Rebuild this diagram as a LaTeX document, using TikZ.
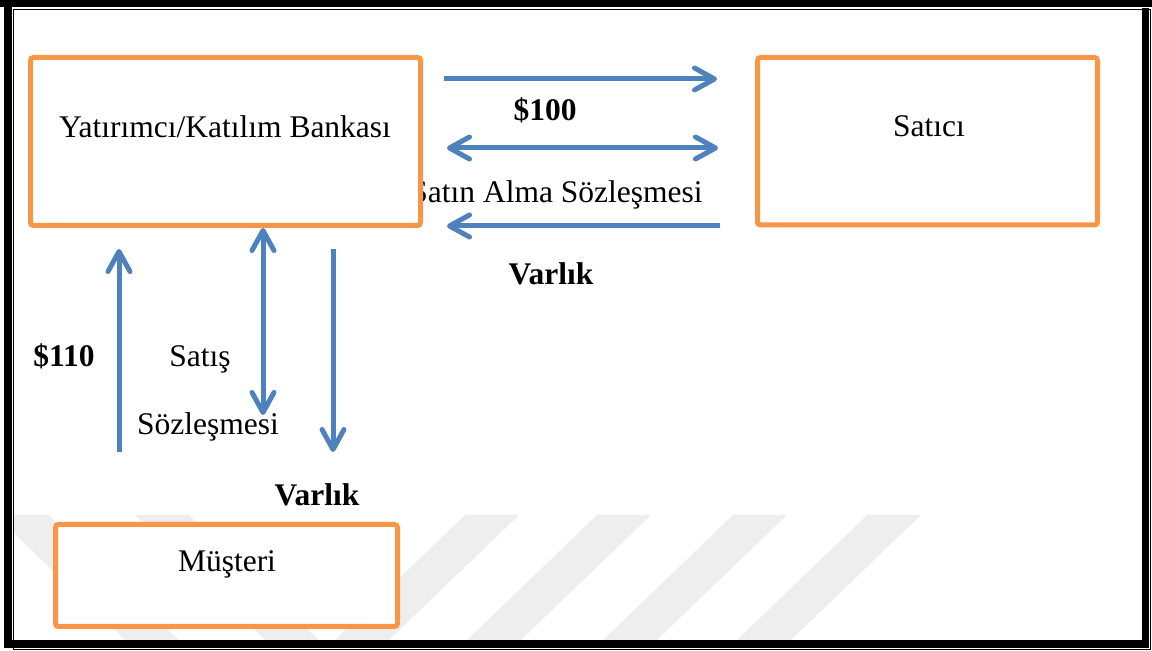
\documentclass[tikz,border=0pt]{standalone}
\usepackage{fontspec}
\setmainfont{Liberation Serif}
\usetikzlibrary{arrows.meta}
\definecolor{boxorange}{HTML}{F79646}
\definecolor{arrblue}{HTML}{4F81BD}
\definecolor{wmgray}{HTML}{EEEEEE}
\begin{document}
\begin{tikzpicture}[x=0.5pt,y=-0.5pt,
  box/.style={draw=boxorange,line width=2.5pt,fill=white,rounded corners=1.5pt,inner sep=0pt},
  lbl/.style={font=\fontsize{15.75}{18}\selectfont,inner sep=0pt,anchor=base},
  blbl/.style={font=\fontsize{15.75}{18}\selectfont\bfseries,inner sep=0pt,anchor=base},
  barb/.tip={Straight Barb[length=10pt,width=11pt,round]},
  flow/.style={draw=arrblue,line width=2.5pt,-barb},
  flowtwo/.style={draw=arrblue,line width=2.5pt,barb-barb},
  wm/.style={fill=wmgray,draw=none},
  frame/.style={fill=black,draw=none}]
\useasboundingbox (0,0) rectangle (1152,651);
% watermark
\begin{scope}
  \clip (14,515) rectangle (1142,640);
  \foreach \a in {465,597,733,867}
    \path[wm] (\a,515) -- (\a+54,515) -- (\a+54-130,640) -- (\a-130,640) -- cycle;
  \foreach \b in {-5,135}
    \path[wm] (\b,515) -- (\b+54,515) -- (\b+54+130,640) -- (\b+130,640) -- cycle;
\end{scope}
% page border
\draw[line width=0.75pt] (13.5,9.5) rectangle (1150.5,649.5);
\path[frame] (0,0) rectangle (1152,7);
\path[frame] (4,0) rectangle (12,648);
\path[frame] (1142,8) rectangle (1149,648);
\path[frame] (12,640) rectangle (1149,648);
% texts that sit partly behind the boxes
\node[lbl,anchor=base east] (satin) at (703,203) {Satın Alma Sözleşmesi};
% boxes
\node[box,minimum width=195pt,minimum height=84pt] (bank) at (225.5,141.5) {};
\node[box,minimum width=170pt,minimum height=83.75pt] (seller) at (927.5,141.25) {};
\node[box,minimum width=171pt,minimum height=51pt] (customer) at (226.5,575.5) {};
\node[lbl] (banktxt) at (225,138) {Yatırımcı/Katılım Bankası};
\node[lbl] (sellertxt) at (929,137) {Satıcı};
\node[lbl] (customertxt) at (227,572) {Müşteri};
% labels
\node[blbl] (p100) at (545,121) {\$100};
\node[blbl] (varlik1) at (551,285) {Varlık};
\node[blbl] (p110) at (64,367) {\$110};
\node[lbl] (satis) at (200,367) {Satış};
\node[lbl] (sozl) at (208,435) {Sözleşmesi};
\node[blbl] (varlik2) at (317,506) {Varlık};
% arrow end points
\coordinate (a1s) at (444,79);  \coordinate (a1e) at (717,79);
\coordinate (a2s) at (447,148); \coordinate (a2e) at (718,148);
\coordinate (a3s) at (720,226); \coordinate (a3e) at (447,226);
\coordinate (v1s) at (119,452); \coordinate (v1e) at (119,249);
\coordinate (v2s) at (263,228); \coordinate (v2e) at (263,415);
\coordinate (v3s) at (333,249); \coordinate (v3e) at (333,452);
% arrows
\draw[flow] (a1s) -- (a1e);
\draw[flowtwo] (a2s) -- (a2e);
\draw[flow] (a3s) -- (a3e);
\draw[flow] (v1s) -- (v1e);
\draw[flowtwo] (v2s) -- (v2e);
\draw[flow] (v3s) -- (v3e);
\end{tikzpicture}
\end{document}
